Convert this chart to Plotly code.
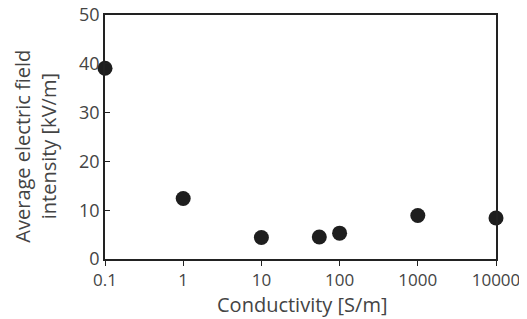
import plotly.graph_objects as go

conductivity = [0.1, 1, 10, 55, 100, 1000, 10000]
field = [39.1, 12.4, 4.4, 4.5, 5.3, 8.9, 8.4]
x_ticks = [0.1, 1, 10, 100, 1000, 10000]
x_tick_labels = ["0.1", "1", "10", "100", "1000", "10000"]
y_ticks = [0, 10, 20, 30, 40, 50]

fig = go.Figure(go.Scatter(
    x=conductivity, y=field, mode="markers",
    marker=dict(size=15, color="#1e1e1e"),
    cliponaxis=False, showlegend=False))

font = dict(family="Open Sans, Liberation Sans, sans-serif", size=18, color="#444444")
# page body adds an 8px offset, so the figure is sized to fit the 527x319 window
fig.update_layout(
    width=519, height=311,
    margin=dict(l=97, r=31, t=7, b=60),
    paper_bgcolor="white", plot_bgcolor="white",
    font=font,
    xaxis=dict(type="log", range=[-1, 4], tickvals=x_ticks, ticktext=x_tick_labels,
               showline=True, linecolor="#222222", linewidth=1.5, mirror=True,
               ticks="outside", ticklen=5, tickcolor="#222222", showgrid=False, zeroline=False,
               automargin=False, ticklabeloverflow="allow", tickfont=dict(size=17)),
    yaxis=dict(range=[0, 50], tickvals=y_ticks,
               showline=True, linecolor="#222222", linewidth=1.5, mirror=True,
               ticks="inside", ticklen=5, tickcolor="#222222", showgrid=False, zeroline=False,
               automargin=False, ticklabeloverflow="allow", tickfont=dict(size=18)),
    annotations=[
        dict(text="Conductivity [S/m]", xref="paper", yref="paper", x=0.503, y=-0.188,
             xanchor="center", yanchor="middle", showarrow=False, font=dict(size=20)),
        dict(text="Average electric field<br>intensity [kV/m]", xref="paper", yref="paper",
             x=-0.18, y=0.463, xanchor="center", yanchor="middle", textangle=-90,
             showarrow=False, font=dict(size=20)),
    ],
)
fig.write_html("out.html")
